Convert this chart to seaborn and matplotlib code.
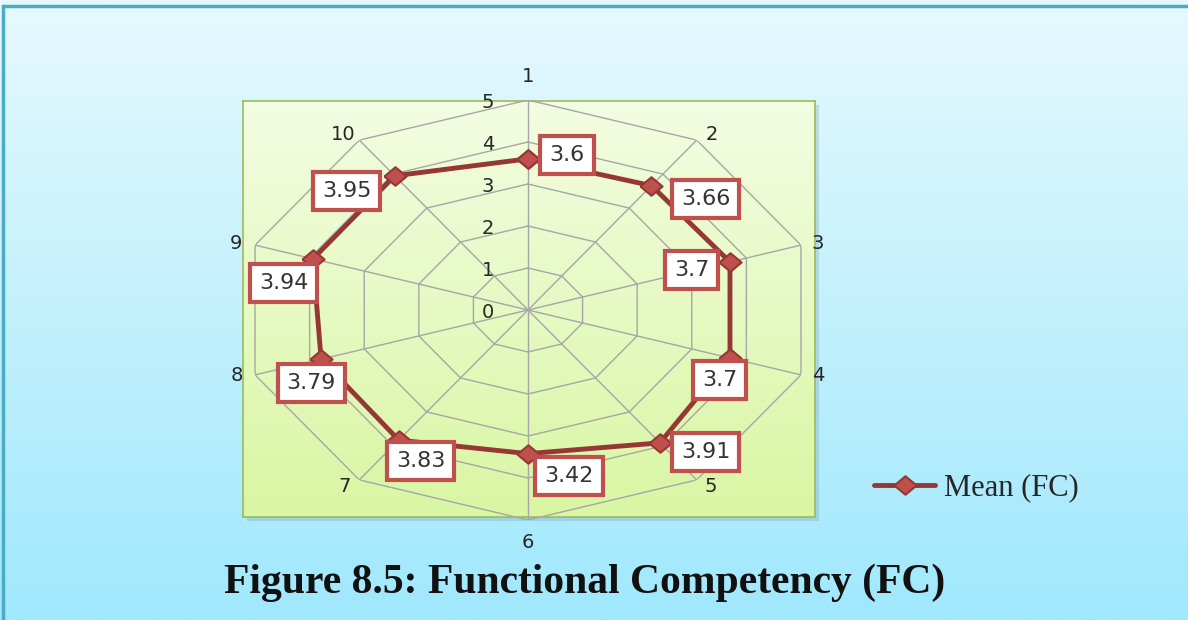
import numpy as np
import pandas as pd
import seaborn as sns
import matplotlib.pyplot as plt
from matplotlib.patches import Rectangle

# Data
categories = ["1", "2", "3", "4", "5", "6", "7", "8", "9", "10"]
mean_fc = [3.6, 3.66, 3.7, 3.7, 3.91, 3.42, 3.83, 3.79, 3.94, 3.95]
ring_levels = [0, 1, 2, 3, 4, 5]
# where each data label box sits relative to its point (pixels)
label_offsets = [(39, 4), (54, -13), (-38, -8), (-10, -22), (46, -9),
                 (41, -22), (22, -21), (-10, -24), (-29, -24), (-48, -15)]
# where the category names sit relative to the outer ring (pixels)
cat_offsets = [(0, 23), (15, 6), (17, 2), (17, -1), (14, -7),
               (0, -23), (-15, -7), (-18, -1), (-19, 2), (-16, 6)]

sns.set_theme(style="white")
plt.rcParams['font.family'] = ['DejaVu Sans']

W, H = 1188, 620
fig = plt.figure(figsize=(W / 100, H / 100), dpi=100)

# figure background gradient + border
bg = fig.add_axes([0, 0, 1, 1], zorder=-10)
g = np.linspace(0, 1, 256)[:, None, None]
top = np.array([230, 249, 254]) / 255
bot = np.array([160, 232, 252]) / 255
bg.imshow(top + (bot - top) * g, aspect='auto', extent=[0, 1, 0, 1], origin='upper')
bg.add_patch(Rectangle((3 / W, -0.1), 1.2, (H - 6) / H + 0.1, fill=False,
                       ec='#4bacc6', lw=2.5, transform=bg.transAxes, clip_on=False))
# shadow of plot area
bg.add_patch(Rectangle((247 / W, 1 - 521 / H), 572 / W, 416 / H, fc='#7aa0b0',
                       alpha=0.3, ec='none', transform=bg.transAxes))
bg.axis('off')

# plot area gradient
pa = fig.add_axes([243 / W, 1 - 517 / H, 572 / W, 416 / H], zorder=-5)
top2 = np.array([243, 253, 226]) / 255
bot2 = np.array([217, 246, 163]) / 255
pa.imshow(top2 + (bot2 - top2) * g, aspect='auto', extent=[0, 1, 0, 1], origin='upper')
pa.set_xticks([])
pa.set_yticks([])
for s in pa.spines.values():
    s.set_color('#9bbb59')
    s.set_linewidth(1.2)

# radar axes (stretched like the original)
ax = fig.add_axes([241 / W, 1 - 520 / H, 574 / W, 420 / H], projection='polar')
ax.set_aspect('auto')
ax.set_theta_zero_location('N')
ax.set_theta_direction(-1)
ax.set_ylim(0, 5)
ax.grid(False)
ax.spines['polar'].set_visible(False)
ax.patch.set_visible(False)

angles = np.deg2rad(np.arange(len(categories)) * 36)
closed = np.append(angles, 2 * np.pi)

for r in ring_levels[1:]:
    ax.plot(closed, [r] * len(closed), color='#a6a6a6', lw=1, zorder=1)
for a in angles:
    ax.plot([a, a], [0, ring_levels[-1]], color='#a6a6a6', lw=1, zorder=1)

df = pd.DataFrame({'angle': closed, 'mean': mean_fc + mean_fc[:1]})
diamond = [(-1.2, 0), (0, 1), (1.2, 0), (0, -1), (-1.2, 0)]
sns.lineplot(data=df, x='angle', y='mean', sort=False, estimator=None, ax=ax,
             color='#953735', lw=3.5, marker=diamond, markersize=16,
             markerfacecolor='#c0504d', markeredgecolor='#953735',
             markeredgewidth=1.5, label='Mean (FC)', zorder=5)

ax.set_xticks([])
ax.set_yticks([])
ax.set_xlabel('')
ax.set_ylabel('')

for ang, name, (dx, dy) in zip(angles, categories, cat_offsets):
    ax.annotate(name, xy=(ang, ring_levels[-1]), xytext=(dx, dy),
                textcoords='offset pixels', ha='center', va='center',
                fontsize=14, color='#262626', annotation_clip=False)

for r in ring_levels:
    ax.annotate(str(r), xy=(0, r), xytext=(-40, -2), textcoords='offset pixels',
                ha='center', va='center', fontsize=14, color='#262626')

for ang, v, (dx, dy) in zip(angles, mean_fc, label_offsets):
    ax.annotate(f"{v:g}", xy=(ang, v), xytext=(dx, dy), textcoords='offset pixels',
                ha='center', va='center', fontsize=16, color='#333333', zorder=10,
                bbox=dict(boxstyle='square,pad=0.4', fc='white', ec='#c0504d', lw=3))

handles, labels = ax.get_legend_handles_labels()
ax.get_legend().remove()
fig.legend(handles, labels, loc='center left', bbox_to_anchor=(874 / W, 1 - 488 / H),
           frameon=False, prop={'family': 'Liberation Serif', 'size': 22},
           handlelength=2.0, handletextpad=0.3, borderpad=0, borderaxespad=0)

fig.text(585 / W, 1 - 583 / H, "Figure 8.5: Functional Competency (FC)",
         ha='center', va='center', fontsize=30, fontweight='bold',
         family='Liberation Serif', color='#111111')

fig.savefig('out.png', dpi=100)
